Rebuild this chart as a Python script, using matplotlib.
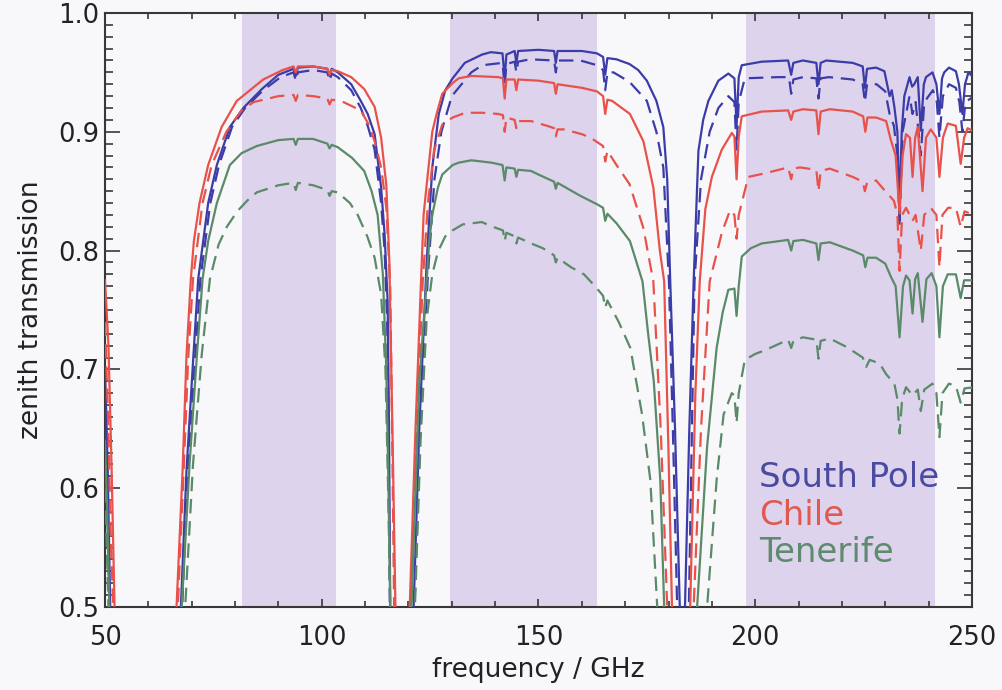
import matplotlib
matplotlib.use("Agg")
import matplotlib.pyplot as plt
from matplotlib.ticker import MultipleLocator

# ---------------- data ----------------
bands = [(81.5, 103.3), (129.5, 163.6), (197.9, 241.4)]

sp_solid = [(50,0.70),(50.6,0.62),(51.2,0.50),(51.8,0.35),(53,0.2),(60,0.1),(66.5,0.4),(67.5,0.5),(68.8,0.615),(70.4,0.712),(71.5,0.776),(73.8,0.84),(75.8,0.872),(78.8,0.904),(81.9,0.92),(86.2,0.936),(90,0.948),(93.5,0.953),(94,0.947),(94.5,0.954),(98,0.955),(101.3,0.953),(101.8,0.947),(102.3,0.953),(103.7,0.950),(106.8,0.940),(109,0.926),(110.6,0.915),(112.2,0.898),(113.7,0.853),(114.5,0.814),(115.2,0.757),(115.5,0.66),(115.8,0.5),(116.5,0.3),(118.7,0.1),(120.5,0.3),(121.2,0.5),(122.5,0.65),(124.2,0.79),(125.5,0.87),(127,0.915),(128.5,0.935),(130.2,0.945),(133,0.958),(137,0.965),(139,0.967),(141.7,0.966),(142.2,0.945),(142.6,0.965),(144.5,0.968),(144.9,0.958),(145.3,0.968),(150,0.969),(153.6,0.968),(154.0,0.958),(154.4,0.968),(160,0.968),(163.5,0.966),(164.9,0.963),(165.4,0.948),(165.9,0.962),(168,0.961),(171,0.957),(173,0.952),(175,0.943),(177.2,0.926),(178.8,0.904),(179.7,0.86),(180.4,0.774),(181.5,0.65),(182.6,0.5),(183.2,0.3),(183.8,0.5),(184.8,0.65),(185.8,0.774),(186.9,0.884),(188,0.91),(189.2,0.926),(191.5,0.943),(193.8,0.949),(195.2,0.945),(195.7,0.905),(196.2,0.946),(196.9,0.956),(201.5,0.959),(207.6,0.960),(208.3,0.948),(208.8,0.958),(211,0.960),(214.1,0.958),(214.6,0.940),(215.1,0.958),(216.4,0.960),(222.5,0.958),(224.8,0.955),(225.3,0.937),(225.8,0.953),(227.9,0.954),(229.8,0.951),(231,0.930),(231.5,0.935),(232.1,0.921),(232.8,0.900),(233.3,0.834),(233.8,0.900),(234.4,0.930),(235.6,0.946),(236.2,0.938),(236.7,0.940),(237.5,0.946),(238.2,0.901),(238.9,0.940),(239.4,0.946),(240.9,0.950),(241.8,0.940),(242.5,0.915),(243.1,0.945),(243.6,0.950),(244.7,0.954),(246.3,0.951),(247,0.940),(247.8,0.915),(248.4,0.940),(249.2,0.950),(250.5,0.945)]

sp_dashed = [(50,0.67),(50.5,0.60),(51,0.50),(51.5,0.38),(53,0.2),(60,0.1),(67,0.4),(67.8,0.5),(69.2,0.62),(70.8,0.71),(72,0.776),(74.3,0.84),(76.3,0.872),(79.3,0.904),(82.3,0.92),(86.5,0.935),(90.5,0.946),(93.5,0.950),(94,0.943),(94.5,0.950),(98,0.952),(101.3,0.950),(101.8,0.943),(102.3,0.949),(103.7,0.946),(106.8,0.935),(109,0.920),(110.6,0.905),(112.2,0.885),(113.7,0.84),(114.5,0.80),(115.1,0.74),(115.4,0.65),(115.7,0.5),(116.4,0.3),(118.7,0.1),(120.7,0.3),(121.4,0.5),(122.8,0.66),(124.5,0.78),(126,0.86),(127.6,0.90),(130,0.93),(134.5,0.950),(137,0.956),(141.7,0.958),(142.2,0.938),(142.6,0.957),(144.5,0.959),(144.9,0.950),(145.3,0.959),(148,0.961),(153.6,0.960),(154,0.950),(154.4,0.960),(159.7,0.960),(163.5,0.956),(164.9,0.952),(165.4,0.935),(165.9,0.950),(167.3,0.950),(171,0.942),(175,0.926),(177.2,0.900),(178.8,0.870),(180.1,0.774),(181,0.65),(182,0.5),(183.2,0.3),(184.7,0.5),(185.4,0.65),(186,0.774),(187.5,0.86),(189.5,0.90),(191.5,0.92),(193.8,0.930),(195.2,0.925),(195.7,0.885),(196.2,0.925),(197.6,0.945),(205.3,0.946),(207.8,0.946),(208.3,0.932),(208.8,0.944),(211,0.946),(214.1,0.945),(214.6,0.928),(215.1,0.945),(217,0.946),(222.5,0.944),(224.8,0.940),(225.3,0.925),(225.8,0.940),(228,0.940),(230,0.934),(231,0.915),(232,0.905),(232.8,0.88),(233.3,0.82),(234,0.90),(235.6,0.930),(236.3,0.915),(237,0.925),(238.2,0.88),(239,0.925),(241,0.935),(241.9,0.925),(242.5,0.895),(243.3,0.930),(244.7,0.940),(246.3,0.937),(247.1,0.925),(247.8,0.900),(248.5,0.925),(250.5,0.930)]

cl_solid = [(50,0.775),(50.8,0.72),(51.5,0.62),(52.2,0.5),(53,0.3),(60,0.1),(65.8,0.4),(66.5,0.5),(67.9,0.615),(68.8,0.712),(69.8,0.776),(70.5,0.808),(71.8,0.84),(73.8,0.872),(76.9,0.904),(80.4,0.926),(86.5,0.944),(91,0.952),(93.5,0.955),(94,0.950),(94.5,0.955),(98,0.955),(101.3,0.953),(101.8,0.948),(102.3,0.952),(103.7,0.951),(106.8,0.946),(109.8,0.936),(112.2,0.921),(113.7,0.895),(114.9,0.855),(115.6,0.79),(116.4,0.63),(117,0.5),(117.8,0.3),(118.7,0.1),(119.5,0.3),(120.3,0.5),(121.6,0.647),(122.9,0.774),(123.5,0.83),(124.2,0.855),(125.5,0.90),(126.5,0.915),(127.8,0.932),(130.2,0.941),(131.6,0.945),(134.5,0.947),(140.7,0.946),(141.8,0.945),(142.2,0.928),(142.6,0.944),(144.5,0.944),(144.9,0.935),(145.3,0.944),(150,0.943),(153.6,0.941),(154,0.932),(154.4,0.940),(160,0.937),(163.5,0.934),(164.9,0.930),(165.4,0.915),(165.9,0.927),(167,0.926),(171.1,0.915),(174.2,0.892),(176.5,0.853),(178,0.80),(179,0.774),(180,0.63),(180.8,0.5),(183,0.3),(185,0.5),(186.2,0.68),(187.2,0.774),(188.5,0.835),(190,0.862),(192.3,0.885),(194.6,0.899),(195.2,0.896),(195.7,0.860),(196.2,0.896),(196.9,0.913),(201.5,0.917),(207.6,0.918),(208.3,0.910),(208.8,0.917),(211,0.919),(214.1,0.918),(214.6,0.898),(215.1,0.917),(217.2,0.919),(222.5,0.917),(224.9,0.913),(225.4,0.900),(225.9,0.912),(227.9,0.912),(230.2,0.909),(231.3,0.893),(232.4,0.880),(233.3,0.831),(234,0.880),(234.8,0.898),(235.7,0.895),(236.3,0.862),(236.9,0.895),(237.5,0.904),(238.6,0.850),(239.4,0.895),(240.5,0.902),(241.8,0.895),(242.5,0.862),(243.3,0.895),(244.4,0.907),(246.3,0.905),(247.4,0.873),(248.2,0.895),(249,0.903),(250.5,0.900)]

cl_dashed = [(50,0.74),(50.7,0.66),(51.4,0.55),(51.9,0.5),(52.8,0.3),(60,0.1),(66.1,0.4),(66.8,0.5),(68.2,0.62),(69.2,0.71),(70.3,0.776),(72.5,0.84),(74.6,0.872),(78,0.900),(81.5,0.918),(84.3,0.925),(90,0.930),(93.5,0.931),(94,0.926),(94.5,0.931),(98,0.930),(101.3,0.928),(101.8,0.923),(102.3,0.927),(105,0.925),(109,0.918),(111,0.905),(112.2,0.892),(113.7,0.870),(114.9,0.836),(115.8,0.77),(116.3,0.63),(116.7,0.5),(117.4,0.3),(118.7,0.1),(119.9,0.3),(120.6,0.5),(122,0.66),(123.3,0.774),(124.5,0.84),(125.9,0.884),(127.8,0.906),(130.2,0.912),(133.1,0.916),(137,0.916),(140.7,0.915),(141.8,0.914),(142.2,0.900),(142.6,0.912),(144.5,0.910),(144.9,0.903),(145.3,0.909),(148.3,0.909),(152,0.905),(153.6,0.903),(154,0.896),(154.4,0.902),(155.9,0.902),(160,0.898),(162,0.895),(164.9,0.888),(165.4,0.875),(165.9,0.884),(168,0.872),(171,0.856),(174.2,0.819),(176.5,0.774),(178.2,0.65),(179.7,0.5),(183.2,0.3),(185.8,0.5),(187.5,0.65),(189.5,0.774),(192.3,0.815),(194.2,0.834),(195.2,0.830),(195.7,0.810),(196.2,0.830),(198.4,0.862),(202.2,0.865),(207.6,0.870),(208.3,0.860),(208.8,0.869),(210.3,0.870),(214.1,0.868),(214.6,0.850),(215.1,0.867),(217.2,0.869),(222.5,0.862),(224.8,0.858),(225.3,0.850),(225.8,0.857),(227.9,0.859),(230,0.850),(232,0.842),(232.8,0.830),(233.3,0.783),(233.9,0.830),(234.8,0.836),(236.3,0.825),(237,0.830),(238.2,0.800),(239,0.830),(240.5,0.836),(241.8,0.830),(242.5,0.786),(243.2,0.830),(244.5,0.836),(246.3,0.836),(247.4,0.820),(248.3,0.833),(250.5,0.830)]

tf_solid = [(50,0.64),(50.5,0.58),(51,0.5),(51.6,0.35),(53,0.2),(60,0.1),(67,0.4),(67.7,0.5),(69.5,0.62),(71.2,0.712),(72.5,0.776),(73.8,0.808),(75.8,0.84),(78.8,0.872),(81.5,0.882),(85,0.888),(90,0.893),(93.5,0.894),(94,0.889),(94.5,0.894),(98,0.894),(101.3,0.890),(101.8,0.886),(102.3,0.889),(103.7,0.887),(107,0.878),(109.8,0.867),(111.5,0.850),(112.9,0.830),(114.1,0.78),(114.9,0.70),(115.4,0.60),(115.8,0.5),(116.5,0.3),(118.7,0.1),(120,0.3),(120.7,0.5),(122.5,0.69),(124.2,0.774),(124.8,0.808),(125.5,0.830),(126.8,0.853),(127.8,0.864),(130.2,0.872),(131.6,0.874),(134.5,0.876),(139.2,0.874),(141.7,0.872),(142.2,0.859),(142.6,0.870),(144.5,0.869),(144.9,0.862),(145.3,0.868),(148.3,0.867),(150,0.864),(153.6,0.858),(154,0.852),(154.4,0.857),(159.7,0.846),(163.5,0.839),(164.9,0.836),(165.4,0.825),(165.9,0.831),(168,0.823),(171.1,0.808),(174,0.774),(175.3,0.73),(176.6,0.69),(178.1,0.607),(179,0.5),(183,0.3),(186.6,0.5),(188.9,0.635),(191.1,0.718),(192.5,0.748),(193.8,0.767),(195.2,0.768),(195.7,0.745),(196.2,0.770),(196.9,0.795),(199,0.802),(201.5,0.806),(207.6,0.809),(208.3,0.800),(208.8,0.808),(211,0.809),(214.1,0.806),(214.6,0.792),(215.1,0.806),(217.2,0.807),(222.5,0.800),(224.9,0.796),(225.4,0.786),(225.9,0.794),(227.9,0.794),(230,0.789),(231.3,0.778),(232.4,0.770),(233.3,0.727),(234.1,0.770),(234.8,0.779),(235.6,0.775),(236.3,0.747),(236.9,0.776),(237.5,0.781),(238.6,0.740),(239.5,0.776),(240.7,0.781),(241.8,0.770),(242.5,0.727),(243.3,0.770),(244.4,0.780),(246.3,0.780),(247.4,0.760),(248.2,0.775),(250.5,0.775)]

tf_dashed = [(50,0.60),(50.4,0.55),(50.8,0.5),(51.3,0.35),(53,0.2),(60,0.1),(67.8,0.4),(68.5,0.5),(70.3,0.62),(72.3,0.712),(74.2,0.776),(76.2,0.805),(78.1,0.820),(80.5,0.833),(82.8,0.842),(85,0.849),(90,0.855),(93.5,0.857),(94,0.851),(94.5,0.857),(98,0.855),(101.3,0.851),(101.8,0.846),(102.3,0.850),(103.7,0.849),(106.5,0.840),(108.3,0.830),(110.5,0.812),(112.2,0.794),(113.7,0.763),(114.7,0.70),(115.3,0.60),(115.8,0.5),(116.5,0.3),(118.7,0.1),(120.8,0.3),(121.5,0.5),(122.8,0.64),(124.2,0.742),(125.5,0.780),(126.8,0.799),(128.5,0.812),(130.2,0.817),(132.5,0.822),(136.9,0.824),(139.5,0.820),(141.8,0.817),(142.2,0.808),(142.6,0.815),(144.5,0.812),(144.9,0.806),(145.3,0.811),(148.3,0.806),(151,0.802),(153.6,0.796),(154,0.790),(154.4,0.794),(157.5,0.786),(160.5,0.780),(162.8,0.771),(164.9,0.762),(165.4,0.752),(165.9,0.758),(168.5,0.740),(171.2,0.718),(173.9,0.662),(175.8,0.607),(177.4,0.5),(183,0.3),(188.9,0.5),(191.1,0.607),(192.7,0.662),(194.6,0.680),(195.2,0.678),(195.7,0.655),(196.2,0.680),(197.6,0.708),(200,0.713),(202.2,0.716),(207.6,0.725),(208.3,0.718),(208.8,0.724),(211,0.727),(214.1,0.725),(214.6,0.709),(215.1,0.724),(217.2,0.726),(221,0.719),(224.8,0.710),(225.6,0.702),(226.4,0.708),(228.7,0.705),(230.2,0.696),(232.1,0.688),(232.8,0.675),(233.3,0.646),(233.9,0.675),(234.8,0.685),(236.3,0.678),(237.5,0.683),(238.2,0.665),(239,0.683),(240.9,0.688),(241.8,0.680),(242.5,0.643),(243.2,0.680),(244.7,0.688),(246.3,0.686),(247.4,0.672),(248.3,0.684),(250.5,0.685)]

site_names = ["South Pole", "Chile", "Tenerife"]
x_ticks = [50, 100, 150, 200, 250]
y_ticks = [0.5, 0.6, 0.7, 0.8, 0.9, 1.0]

# ---------------- style ----------------
BLUE = "#3c3ca8"
RED = "#e8524a"
GREEN = "#5a8a68"
BAND = "#ddd3ec"
BG = "#f8f8fb"
FRAME = "#383838"

plt.rcParams["font.family"] = ["DejaVu Sans"]

fig = plt.figure(figsize=(10.02, 6.90), dpi=100, facecolor=BG)
ax = fig.add_axes([0.1048, 0.1203, 0.8652, 0.8609])
ax.set_facecolor(BG)

for lo, hi in bands:
    ax.axvspan(lo, hi, color=BAND, lw=0, zorder=0)

series = [
    (sp_solid, BLUE, "-"), (sp_dashed, BLUE, "--"),
    (cl_solid, RED, "-"), (cl_dashed, RED, "--"),
    (tf_solid, GREEN, "-"), (tf_dashed, GREEN, "--"),
]
for data, col, ls in series:
    f, t = zip(*data)
    line, = ax.plot(f, t, color=col, lw=1.6, ls=ls, zorder=3)
    if ls == "--":
        line.set_dashes((6.5, 3.5))

ax.set_xlim(50, 250)
ax.set_ylim(0.5, 1.0)
ax.set_xticks(x_ticks)
ax.set_xticklabels([str(v) for v in x_ticks])
ax.set_yticks(y_ticks)
ax.set_yticklabels([f"{v:.1f}" for v in y_ticks])
ax.xaxis.set_minor_locator(MultipleLocator(10))
ax.yaxis.set_minor_locator(MultipleLocator(0.01))

ax.tick_params(axis="both", which="both", direction="in", top=True, right=True,
               color=FRAME, width=1.2, labelcolor="#222222")
ax.tick_params(axis="x", which="major", length=6, pad=13, labelsize=18.5)
ax.tick_params(axis="x", which="minor", length=4)
ax.tick_params(axis="y", which="major", length=11, pad=4, labelsize=18.5)
ax.tick_params(axis="y", which="minor", length=5.5)

for sp in ax.spines.values():
    sp.set_color(FRAME)
    sp.set_linewidth(1.5)

ax.set_xlabel("frequency / GHz", fontsize=19, color="#222222", labelpad=4)
ax.set_ylabel("zenith transmission", fontsize=19, color="#222222", labelpad=10)

ax.text(200.8, 0.609, site_names[0], color="#4a4aa0", fontsize=24.5, va="center", ha="left", zorder=5)
ax.text(200.8, 0.577, site_names[1], color="#e0584e", fontsize=24.5, va="center", ha="left", zorder=5)
ax.text(200.8, 0.546, site_names[2], color="#5e8a6e", fontsize=24.5, va="center", ha="left", zorder=5)

fig.savefig("out.png", dpi=100, facecolor=BG)
